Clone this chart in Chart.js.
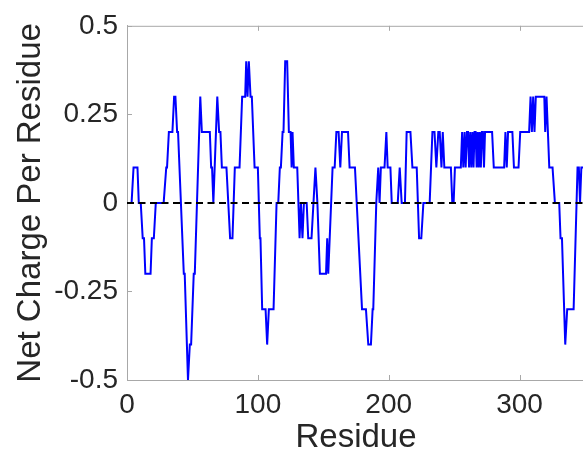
<!DOCTYPE html>
<html>
<head>
<meta charset="utf-8">
<title>Net Charge Per Residue</title>
<script src="https://cdn.jsdelivr.net/npm/chart.js@4"></script>
<style>
  html, body { margin: 0; padding: 0; overflow: hidden; background: #fff; }
  #wrap { position: absolute; left: 0; top: 0; width: 585px; height: 461px; }
</style>
</head>
<body>
<div id="wrap"><canvas id="ncpr-chart"></canvas></div>
<script>
// ── Data: sliding-window net charge, vertices of the trace ─────
const residue = [
    3.5, 5, 8, 9, 10.5, 12, 13, 14, 18, 19, 20.5, 22, 28, 30, 30.6, 32, 34.7, 36, 37, 38.3,
    39, 43.4, 44.1, 46.6, 48, 49, 51, 51.8, 56, 57.2, 63.3, 64.3, 65, 66, 69, 70.4, 71.4, 72.5, 76, 78.8,
    80.6, 82.4, 86, 88, 90.3, 91.1, 92.1, 93.1, 94.4, 95.4, 97.5, 100, 101.5, 102, 103.3, 105.9, 107.1, 108.4, 112, 114.3,
    115.6, 116.8, 117.6, 118.9, 119.6, 120.9, 122.4, 123.7, 125, 125.8, 126.5, 127.5, 130.1, 131.9, 132.9, 134.1, 135.2, 137.3, 138.5, 141,
    142.5, 144, 145.5, 147.4, 152.1, 153, 153.8, 157.1, 158.7, 160, 161.7, 163, 164.3, 168.9, 170.1, 174.2, 179.6, 182.6, 184.4, 186.4,
    187.7, 188.2, 190.5, 192, 193, 194, 196.8, 198.2, 199.2, 201.3, 202.3, 206.9, 208.4, 209.9, 212.4, 213.7, 216.6, 218.1, 221.4, 223.2,
    224.9, 226.5, 231.3, 233.4, 235, 236.4, 237.9, 239, 240.3, 241.3, 242.5, 247.5, 248.6, 249.6, 250.6, 255.1, 256.1, 257, 258, 258.8,
    259.8, 260.6, 261.4, 262.3, 263.1, 264, 264.8, 265.6, 266.4, 267.2, 268, 268.8, 269.6, 270.4, 271.2, 272, 272.8, 273.6, 279, 280.3,
    288.2, 289.2, 290.2, 291.2, 294.5, 295.7, 299.2, 300.5, 307.3, 308.4, 309.4, 310.4, 311.4, 312.4, 318.9, 319.6, 320.6, 322.7, 325.2, 327,
    330.3, 331.3, 332.4, 334.9, 336.4, 341.3, 344.3, 345.3, 346.2, 347.2, 349
];
const netCharge = [
    0, 0.1, 0.1, 0, 0, -0.1, -0.1, -0.2, -0.2, -0.1, -0.1, 0, 0, 0.1, 0.1, 0.2, 0.2, 0.3, 0.3, 0.2,
    0.2, -0.2, -0.2, -0.5, -0.4, -0.4, -0.2, -0.2, 0.3, 0.2, 0.2, 0.1, 0.1, 0, 0.3, 0.2, 0.2, 0.1, 0.1, -0.1,
    -0.1, 0.1, 0.1, 0.3, 0.3, 0.4, 0.3, 0.4, 0.3, 0.3, 0.1, 0.1, -0.1, -0.1, -0.3, -0.3, -0.4, -0.3, -0.3, 0,
    0, 0.1, 0.1, 0.2, 0.2, 0.4, 0.4, 0.2, 0.2, 0.1, 0.2, 0.1, 0.1, -0.1, 0, -0.1, 0, 0, -0.1, -0.1,
    0, 0.1, 0, -0.2, -0.2, -0.1, -0.2, 0.1, 0.1, 0.2, 0.2, 0.1, 0.2, 0.2, 0.1, 0.1, -0.3, -0.3, -0.4, -0.4,
    -0.3, -0.3, 0, 0.1, 0, 0.1, 0.1, 0.2, 0.1, 0.1, 0, 0, 0.1, 0, 0, 0.2, 0.2, 0.1, 0.1, -0.1,
    -0.1, 0, 0, 0.2, 0.2, 0.1, 0.2, 0.2, 0.1, 0.2, 0.1, 0.1, 0, 0, 0.1, 0.1, 0.2, 0.1, 0.2, 0.1,
    0.2, 0.2, 0.1, 0.2, 0.1, 0.2, 0.1, 0.2, 0.2, 0.1, 0.2, 0.1, 0.2, 0.1, 0.2, 0.2, 0.1, 0.2, 0.2, 0.1,
    0.1, 0.2, 0.1, 0.2, 0.2, 0.1, 0.1, 0.2, 0.2, 0.3, 0.2, 0.3, 0.2, 0.3, 0.3, 0.2, 0.3, 0.1, 0.1, 0,
    0, -0.1, -0.1, -0.4, -0.3, -0.3, 0.1, 0.1, 0, 0.1, 0.1
];

// ── Axes ─────────────────────────────────────────────────────
const X_MIN = 0, X_MAX = 350;
const Y_MIN = -0.5, Y_MAX = 0.5;
const xTicks = [0, 100, 200, 300];
const yTicks = [-0.5, -0.25, 0, 0.25, 0.5];
const yTickLabels = ["-0.5", "-0.25", "0", "0.25", "0.5"];

const AXIS_GREY = "#a8a8a8";
const TEXT_DARK = "#262626";
const FONT = "'Liberation Sans', Arial, Helvetica, sans-serif";
const TICK_IN = 5;

// Inward tick marks + top box edge, drawn under the traces
const boxTicks = {
    id: "boxTicks",
    beforeDatasetsDraw(chart) {
        const { ctx, chartArea: a, scales } = chart;
        ctx.save();
        ctx.strokeStyle = AXIS_GREY;
        ctx.lineWidth = 1;
        ctx.beginPath();
        ctx.moveTo(a.left, a.top + 0.5);
        ctx.lineTo(a.right, a.top + 0.5);
        xTicks.forEach(v => {
            const px = Math.round(scales.x.getPixelForValue(v)) + 0.5;
            ctx.moveTo(px, a.bottom);
            ctx.lineTo(px, a.bottom - TICK_IN);
            ctx.moveTo(px, a.top);
            ctx.lineTo(px, a.top + TICK_IN);
        });
        yTicks.forEach(v => {
            const py = Math.round(scales.y.getPixelForValue(v)) + 0.5;
            ctx.moveTo(a.left, py);
            ctx.lineTo(a.left + TICK_IN, py);
        });
        ctx.stroke();
        ctx.restore();
    },
};

const ctx = document.getElementById("ncpr-chart").getContext("2d");
new Chart(ctx, {
    type: "line",
    data: {
        datasets: [
            {
                label: "zero",
                data: [{ x: X_MIN, y: 0 }, { x: X_MAX, y: 0 }],
                borderColor: "#000000",
                borderWidth: 2,
                borderDash: [7, 4.5],
                pointRadius: 0,
                fill: false,
            },
            {
                label: "Net charge",
                data: residue.map((r, i) => ({ x: r, y: netCharge[i] })),
                borderColor: "#0000ff",
                borderWidth: 2,
                pointRadius: 0,
                tension: 0,
                fill: false,
            },
        ],
    },
    options: {
        responsive: true,
        maintainAspectRatio: false,
        animation: false,
        layout: { padding: { top: 20, right: 0, left: 0, bottom: 0 } },
        plugins: { legend: { display: false }, tooltip: { enabled: false } },
        scales: {
            x: {
                type: "linear",
                min: X_MIN,
                max: X_MAX,
                afterBuildTicks: (s) => { s.ticks = xTicks.map(v => ({ value: v })); },
                afterFit: (s) => { s.height = 81; },
                grid: { drawOnChartArea: false, drawTicks: false },
                border: { color: AXIS_GREY, width: 1 },
                ticks: {
                    color: TEXT_DARK,
                    font: { family: FONT, size: 28 },
                    padding: 8,
                    maxRotation: 0,
                },
                title: {
                    display: true,
                    text: "Residue",
                    color: TEXT_DARK,
                    font: { family: FONT, size: 33 },
                    padding: { top: 0, bottom: 3 },
                },
            },
            y: {
                min: Y_MIN,
                max: Y_MAX,
                afterBuildTicks: (s) => { s.ticks = yTicks.map(v => ({ value: v })); },
                afterFit: (s) => { s.width = 127; },
                grid: { drawOnChartArea: false, drawTicks: false },
                border: { color: AXIS_GREY, width: 1 },
                ticks: {
                    color: TEXT_DARK,
                    font: { family: FONT, size: 28 },
                    padding: 9,
                    callback: (v) => yTickLabels[yTicks.indexOf(v)] ?? "",
                },
                title: {
                    display: true,
                    text: "Net Charge Per Residue",
                    color: TEXT_DARK,
                    font: { family: FONT, size: 33 },
                    padding: { top: 11, bottom: 0 },
                },
            },
        },
    },
    plugins: [boxTicks],
});
</script>
</body>
</html>
